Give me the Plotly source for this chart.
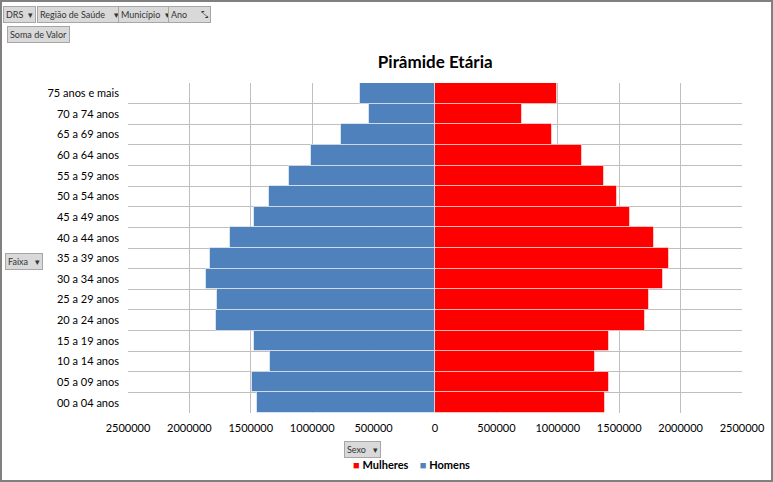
import plotly.graph_objects as go

faixas = ["00 a 04 anos", "05 a 09 anos", "10 a 14 anos", "15 a 19 anos", "20 a 24 anos",
          "25 a 29 anos", "30 a 34 anos", "35 a 39 anos", "40 a 44 anos", "45 a 49 anos",
          "50 a 54 anos", "55 a 59 anos", "60 a 64 anos", "65 a 69 anos", "70 a 74 anos",
          "75 anos e mais"]
homens = [1449000, 1488000, 1344000, 1474000, 1780000, 1778000, 1865000, 1832000,
          1669000, 1471000, 1349000, 1191000, 1007000, 768000, 535000, 611000]
mulheres = [1382000, 1417000, 1300000, 1417000, 1710000, 1740000, 1860000, 1903000,
            1781000, 1588000, 1482000, 1374000, 1200000, 953000, 712000, 997000]
tick_vals = [-2500000, -2000000, -1500000, -1000000, -500000, 0,
             500000, 1000000, 1500000, 2000000, 2500000]
tick_text = [str(abs(v)) for v in tick_vals]

ypos = list(range(len(faixas)))
font = "Lato, Open Sans, sans-serif"
RED = "#FF0000"
BLUE = "#4F81BD"

fig = go.Figure()
fig.add_trace(go.Bar(
    y=ypos, x=mulheres, orientation="h", name="Mulheres", showlegend=False,
    marker=dict(color=RED, line=dict(color="rgba(255,255,255,0.55)", width=1)),
))
fig.add_trace(go.Bar(
    y=ypos, x=[-v for v in homens], orientation="h", name="Homens", showlegend=False,
    marker=dict(color=BLUE, line=dict(color="rgba(255,255,255,0.55)", width=1)),
))

fig.update_layout(
    width=773, height=482,
    margin=dict(l=128, r=31, t=83, b=69, autoexpand=False),
    paper_bgcolor="white", plot_bgcolor="white",
    barmode="relative", bargap=0,
    font=dict(family=font, size=11, color="#000000"),
    title=dict(text="<b>Pirâmide Etária</b>", x=0.563, xanchor="center",
               y=0.872, yanchor="middle", font=dict(size=17, family=font)),
    showlegend=False,
    xaxis=dict(range=[-2500000, 2500000], tickvals=tick_vals, ticktext=tick_text,
               showgrid=True, gridcolor="#BFBFBF", gridwidth=1, zeroline=False,
               ticks="", ticklen=0, ticklabelstandoff=7, fixedrange=True),
    yaxis=dict(range=[-0.5, 15.5], tickvals=ypos, ticktext=faixas, showgrid=False,
               zeroline=False, ticks="", ticklabelstandoff=8,
               minor=dict(tick0=-0.5, dtick=1, showgrid=True, gridcolor="#BFBFBF", gridwidth=1)),
)

# outer frame of the chart object
fig.add_shape(type="rect", xref="paper", yref="paper",
              x0=-127/614, x1=(772 - 128) / 614,
              y0=(413 - 481) / 330, y1=412 / 330,
              line=dict(color="#808080", width=2))

def px(xp):
    return (xp - 128) / 614

def py(yp):
    return (413 - yp) / 330

# legend (compact, Excel style)
legend_text = (f"<span style='color:{RED}'>■</span> <b>Mulheres</b>"
               f"    <span style='color:{BLUE}'>■</span> <b>Homens</b>")
fig.add_annotation(text=legend_text, x=px(411), y=py(465), xref="paper", yref="paper",
                   showarrow=False, xanchor="center", yanchor="middle",
                   font=dict(size=11, family=font, color="#000000"))

btn = dict(xref="paper", yref="paper", showarrow=False, bgcolor="#D9D9D9",
           bordercolor="#A6A6A6", borderwidth=1, borderpad=2,
           font=dict(size=9, family=font, color="#333333"), xanchor="left", yanchor="middle")

buttons = [("DRS  ▾", 3, 14), ("Região de Saúde    ▾", 37, 14), ("Município  ▾", 118, 14),
           ("Ano      ⤡", 168, 14), ("Soma de Valor", 7, 34), ("Faixa   ▾", 5, 261),
           ("Sexo   ▾", 344, 449)]
for txt, bx, by in buttons:
    fig.add_annotation(text=txt, x=px(bx), y=py(by), **btn)

fig.write_html("out.html")
